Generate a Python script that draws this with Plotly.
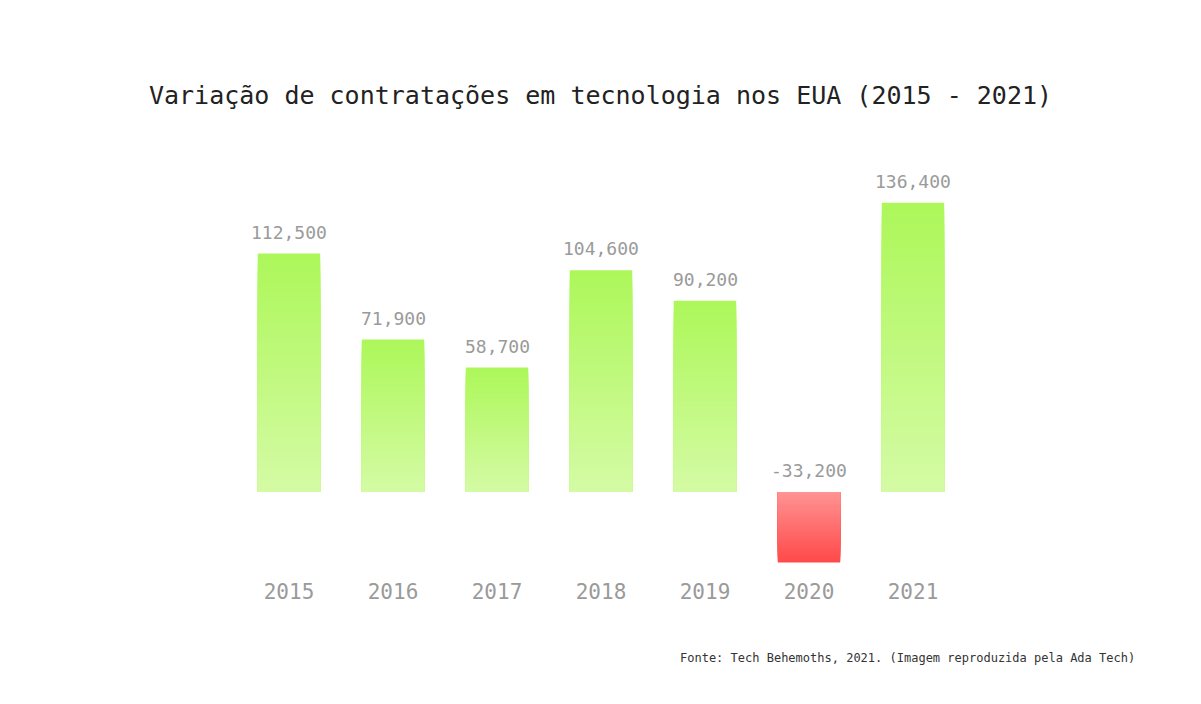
import plotly.graph_objects as go

years = ["2015", "2016", "2017", "2018", "2019", "2020", "2021"]
values = [112500, 71900, 58700, 104600, 90200, -33200, 136400]
labels = ["112,500", "71,900", "58,700", "104,600", "90,200", "-33,200", "136,400"]

title_text = "Variação de contratações em tecnologia nos EUA (2015 - 2021)"
source_text = "Fonte: Tech Behemoths, 2021. (Imagem reproduzida pela Ada Tech)"

FONT = "DejaVu Sans Mono"
# gradient colours: (tip colour, base colour)
POS = ((173, 247, 90), (212, 251, 164))
NEG = ((255, 74, 74), (255, 146, 146))


def mix(a, b, t):
    return "rgb(%d,%d,%d)" % tuple(round(a[i] + (b[i] - a[i]) * t) for i in range(3))


fig = go.Figure()
N = 40
for k in range(N):
    frac = (N - k) / N
    t = k / (N - 1)
    ys = [v * frac for v in values]
    cols = [mix(*(POS if v >= 0 else NEG), t) for v in values]
    fig.add_trace(go.Bar(
        x=list(years), y=ys, width=0.6,
        marker=dict(color=cols, line=dict(width=0)),
        hoverinfo="skip", showlegend=False,
    ))

for i, (v, lab) in enumerate(zip(values, labels)):
    fig.add_annotation(
        x=i, y=max(v, 0), text=lab, showarrow=False,
        yanchor="bottom", yshift=9,
        font=dict(family=FONT, size=18, color="#9a9a9a"),
    )

fig.add_annotation(
    xref="paper", yref="paper", x=1.236, y=-0.19, text=source_text,
    showarrow=False, xanchor="right", yanchor="middle",
    font=dict(family=FONT, size=12, color="#333333"),
)

fig.update_layout(
    width=1201, height=704,
    barmode="overlay",
    paper_bgcolor="white", plot_bgcolor="white",
    margin=dict(l=237, r=236, t=152, b=127),
    title=dict(text=title_text, x=0.5, xanchor="center", y=1 - 95 / 704,
               yanchor="middle", font=dict(family=FONT, size=25, color="#222222")),
    xaxis=dict(type="category", categoryorder="array", categoryarray=years,
               range=[-0.5, len(years) - 0.5],
               showgrid=False, showline=False, zeroline=False, ticks="",
               tickfont=dict(family=FONT, size=21, color="#9a9a9a")),
    yaxis=dict(range=[-40094, 160377], visible=False, showgrid=False,
               zeroline=False),
)

fig.write_html("out.html", config={"displayModeBar": False},
               post_script="document.body.style.margin='0';")
